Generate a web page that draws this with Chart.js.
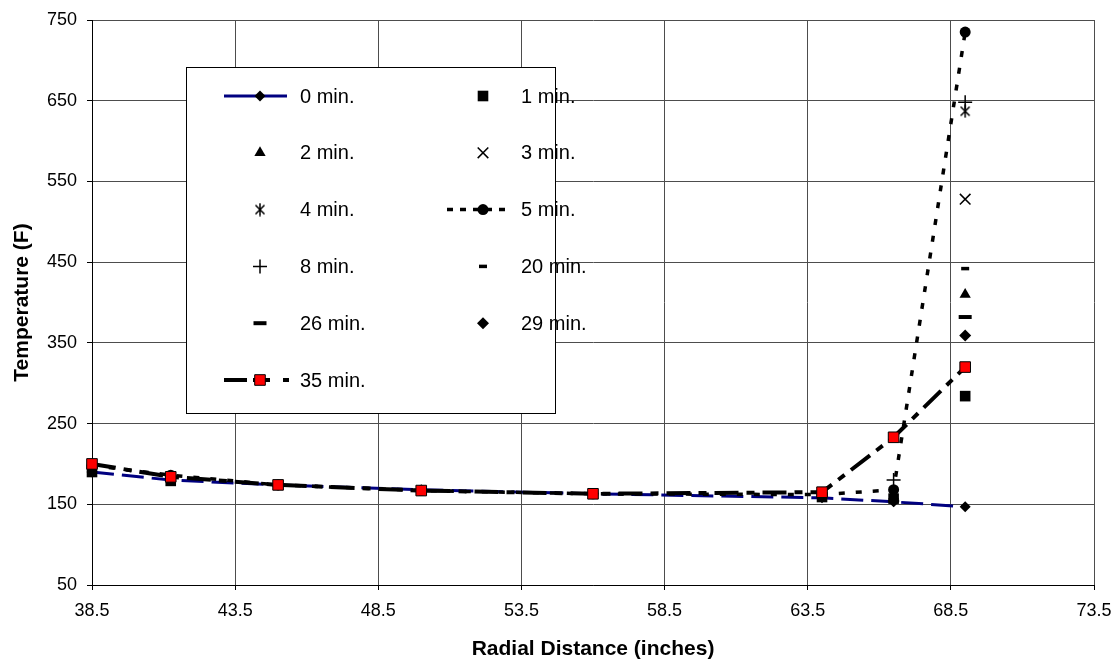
<!DOCTYPE html>
<html>
<head>
<meta charset="utf-8">
<script src="https://cdn.jsdelivr.net/npm/chart.js@4/dist/chart.umd.min.js"></script>
<style>
  html, body { margin: 0; padding: 0; background: #fff; }
  #wrap { width: 1117px; height: 663px; }
</style>
</head>
<body>
<div id="wrap"><canvas id="c" width="1117" height="663"></canvas></div>
<script>
// ---- data ----
const radii = [38.5, 41.25, 45, 50, 56, 64, 66.5, 69];
const xTickValues = [38.5, 43.5, 48.5, 53.5, 58.5, 63.5, 68.5, 73.5];
const yTickValues = [50, 150, 250, 350, 450, 550, 650, 750];
const seriesLabels = ['0 min.', '1 min.', '2 min.', '3 min.', '4 min.', '5 min.', '8 min.', '20 min.', '26 min.', '29 min.', '35 min.'];

const t0  = [190, 180, 174, 168, 163, 158, 153, 147];
const t1  = [190, 179, null, null, null, 159, 157, 284];
const t2  = [null, null, null, null, null, null, 160, 410];
const t3  = [null, null, null, null, null, null, null, 528];
const t4  = [null, null, null, null, null, null, null, 637];
const t5  = [198, 186, 174, 167, 163, 162, 168, 735];
const t8  = [null, null, null, null, null, null, 180, 648];
const t20 = [null, null, null, null, null, null, null, 442];
const t26 = [null, null, null, null, null, null, null, 382];
const t29 = [null, null, null, null, null, null, 154, 359];
const t35 = [200, 184, 174, 167, 163, 165, 233, 320];

// ---- helpers ----
function pts(arr) {
  return radii.map((x, i) => ({ x: x, y: arr[i] })).filter(p => p.y !== null);
}
function asteriskCanvas() {
  const c = document.createElement('canvas');
  c.width = 14; c.height = 14;
  const g = c.getContext('2d');
  g.strokeStyle = '#000'; g.lineWidth = 1.5;
  g.beginPath();
  g.moveTo(2.5, 2.5); g.lineTo(11.5, 11.5);
  g.moveTo(11.5, 2.5); g.lineTo(2.5, 11.5);
  g.moveTo(7, 0.5); g.lineTo(7, 13.5);
  g.stroke();
  return c;
}
const asterisk = asteriskCanvas();
const FONT = "'Liberation Sans', Arial, sans-serif";

function markerSet(label, arr, style, radius, bw, extra) {
  return Object.assign({
    label: label,
    data: pts(arr),
    showLine: false,
    pointStyle: style,
    pointRadius: radius,
    pointHoverRadius: radius,
    pointBackgroundColor: '#000',
    pointBorderColor: '#000',
    pointBorderWidth: bw,
    borderColor: '#000',
    backgroundColor: '#000',
    clip: false
  }, extra || {});
}

const datasets = [
  markerSet(seriesLabels[0], t0, 'rectRot', 5.5, 0, {
    showLine: true, borderColor: '#000080', borderWidth: 3, borderDash: [22, 8], order: 2,
    legendDash: [], legendEnd: 27
  }),
  markerSet(seriesLabels[1], t1, 'rect', 7.5, 0),
  markerSet(seriesLabels[2], t2, 'triangle', 6.5, 0),
  markerSet(seriesLabels[3], t3, 'crossRot', 7.5, 1.5),
  markerSet(seriesLabels[4], t4, asterisk, 7, 0),
  markerSet(seriesLabels[5], t5, 'circle', 5.5, 0, {
    showLine: true, borderColor: '#000', borderWidth: 3.5, borderDash: [6, 11], order: 1,
    legendDash: [6, 7], legendEnd: 28
  }),
  markerSet(seriesLabels[6], t8, 'cross', 7, 1.5),
  markerSet(seriesLabels[7], t20, 'line', 4, 3.5),
  markerSet(seriesLabels[8], t26, 'line', 6.5, 4),
  markerSet(seriesLabels[9], t29, 'rectRot', 6, 0),
  markerSet(seriesLabels[10], t35, 'rect', 7.5, 1, {
    showLine: true, borderColor: '#000', borderWidth: 4, borderDash: [24, 8, 8, 8],
    pointBackgroundColor: '#ff0000', pointBorderColor: '#000', order: -1,
    legendDash: [23, 6, 17, 13, 6, 100], legendEnd: 29
  })
];

// ---- custom two-column legend inside the plot ----
const legendPlugin = {
  id: 'boxLegend',
  afterDraw(chart) {
    const ctx = chart.ctx;
    const box = { x: 186.5, y: 67.5, w: 369, h: 346 };
    ctx.save();
    ctx.fillStyle = '#fff';
    ctx.strokeStyle = '#000';
    ctx.lineWidth = 1;
    ctx.fillRect(box.x, box.y, box.w, box.h);
    ctx.strokeRect(box.x, box.y, box.w, box.h);
    const cols = [{ mx: 260, tx: 300 }, { mx: 483, tx: 521 }];
    const row0 = 96, rowH = 56.8;
    chart.data.datasets.forEach((ds, i) => {
      const col = cols[i % 2];
      const y = row0 + Math.floor(i / 2) * rowH;
      if (ds.showLine) {
        ctx.save();
        ctx.strokeStyle = ds.borderColor;
        ctx.lineWidth = ds.borderWidth;
        ctx.setLineDash(ds.legendDash || ds.borderDash || []);
        ctx.beginPath();
        ctx.moveTo(col.mx - 36, y);
        ctx.lineTo(col.mx + (ds.legendEnd || 27), y);
        ctx.stroke();
        ctx.restore();
      }
      ctx.save();
      ctx.fillStyle = ds.pointBackgroundColor;
      ctx.strokeStyle = ds.pointBorderColor;
      ctx.lineWidth = ds.pointBorderWidth;
      ctx.setLineDash([]);
      Chart.helpers.drawPoint(ctx, {
        pointStyle: ds.pointStyle,
        radius: ds.pointRadius,
        rotation: 0,
        borderWidth: ds.pointBorderWidth
      }, col.mx, y);
      ctx.restore();
      ctx.fillStyle = '#000';
      ctx.font = '20px ' + FONT;
      ctx.textAlign = 'left';
      ctx.textBaseline = 'middle';
      ctx.fillText(ds.label, col.tx, y + 1);
    });
    ctx.restore();
  }
};

const gridColor = '#4d4d4d';

new Chart(document.getElementById('c'), {
  type: 'scatter',
  data: { datasets: datasets },
  plugins: [legendPlugin],
  options: {
    responsive: false,
    animation: false,
    layout: { padding: { left: 0, right: 23, top: 20, bottom: 0 } },
    plugins: { legend: { display: false }, tooltip: { enabled: false } },
    elements: { line: { tension: 0 } },
    scales: {
      x: {
        type: 'linear',
        min: 38.5, max: 73.5,
        afterBuildTicks(scale) { scale.ticks = xTickValues.map(v => ({ value: v })); },
        afterFit(scale) { scale.height = 78; scale.paddingLeft = 0; scale.paddingRight = 0; },
        ticks: {
          color: '#000', padding: 10, maxRotation: 0,
          font: { family: FONT, size: 18 },
          callback: (v) => Number(v).toFixed(1)
        },
        grid: { color: gridColor, lineWidth: 1, tickLength: 5, tickColor: '#000' },
        border: { color: '#000', width: 1 },
        title: {
          display: true, text: 'Radial Distance (inches)', color: '#000',
          font: { family: FONT, size: 21, weight: 'bold', lineHeight: 1.2 },
          padding: { top: 0, bottom: 1 }
        }
      },
      y: {
        type: 'linear',
        min: 50, max: 750,
        afterBuildTicks(scale) { scale.ticks = yTickValues.map(v => ({ value: v })); },
        afterFit(scale) { scale.width = 92; scale.paddingTop = 0; scale.paddingBottom = 0; },
        ticks: {
          color: '#000', padding: 10,
          font: { family: FONT, size: 18 },
          callback: (v) => String(v)
        },
        grid: { color: gridColor, lineWidth: 1, tickLength: 5, tickColor: '#000' },
        border: { color: '#000', width: 1 },
        title: {
          display: true, text: 'Temperature (F)', color: '#000',
          font: { family: FONT, size: 21, weight: 'bold', lineHeight: 1.2 },
          padding: { top: 10, bottom: 0 }
        }
      }
    }
  }
});
</script>
</body>
</html>
